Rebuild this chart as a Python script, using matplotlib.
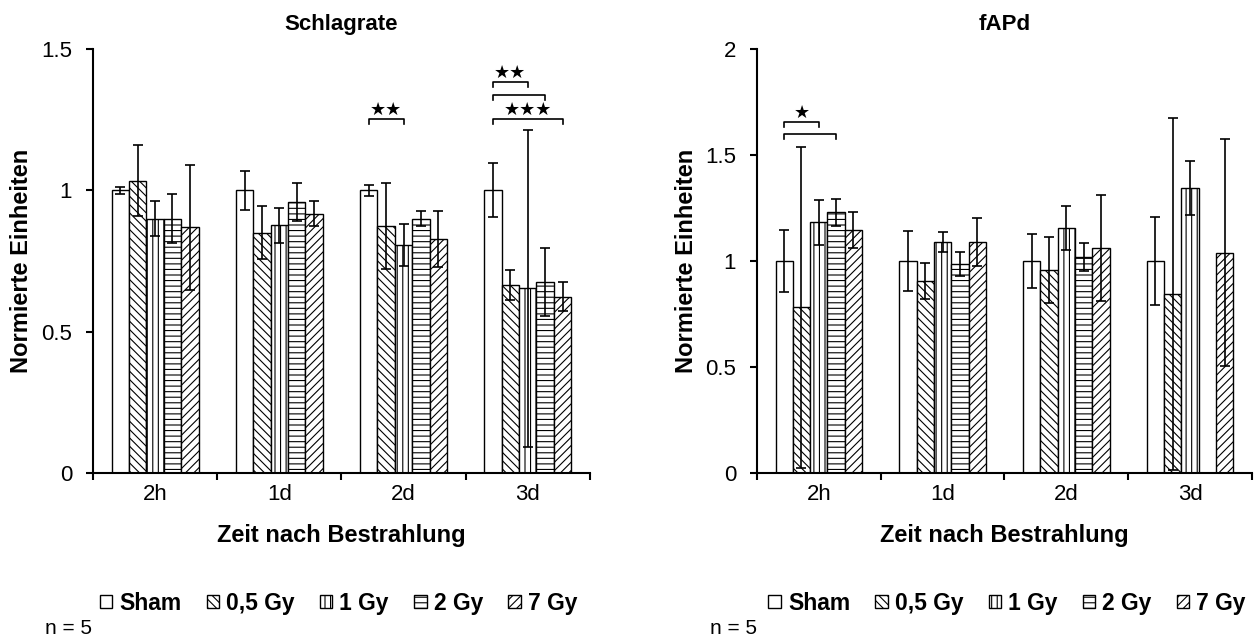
import numpy as np
import matplotlib
matplotlib.use("Agg")
import matplotlib.pyplot as plt
from matplotlib.patches import Patch

plt.rcParams['font.family'] = ['Liberation Sans', 'DejaVu Sans']
plt.rcParams['hatch.linewidth'] = 0.8

# data
zeiten = ['2h', '1d', '2d', '3d']
gruppen = ['Sham', '0,5 Gy', '1 Gy', '2 Gy', '7 Gy']
muster = ['', '\\\\\\\\', '|||', '---', '////']

# Schlagrate (mean, error) per group, per time point
schlag = {
    'Sham':   [1.00, 1.00, 1.00, 1.00],
    '0,5 Gy': [1.034, 0.85, 0.875, 0.665],
    '1 Gy':   [0.90, 0.876, 0.807, 0.653],
    '2 Gy':   [0.90, 0.96, 0.90, 0.675],
    '7 Gy':   [0.869, 0.918, 0.828, 0.624],
}
schlag_err = {
    'Sham':   [0.013, 0.07, 0.02, 0.095],
    '0,5 Gy': [0.125, 0.094, 0.152, 0.053],
    '1 Gy':   [0.063, 0.061, 0.074, 0.56],
    '2 Gy':   [0.086, 0.067, 0.026, 0.12],
    '7 Gy':   [0.22, 0.045, 0.10, 0.05],
}

# fAPd
fapd = {
    'Sham':   [1.00, 1.00, 1.00, 1.00],
    '0,5 Gy': [0.783, 0.907, 0.957, 0.844],
    '1 Gy':   [1.182, 1.09, 1.155, 1.345],
    '2 Gy':   [1.229, 0.986, 1.02, np.nan],
    '7 Gy':   [1.147, 1.09, 1.063, 1.04],
}
fapd_err = {
    'Sham':   [0.145, 0.14, 0.126, 0.209],
    '0,5 Gy': [0.757, 0.085, 0.154, 0.83],
    '1 Gy':   [0.107, 0.048, 0.105, 0.126],
    '2 Gy':   [0.065, 0.056, 0.065, np.nan],
    '7 Gy':   [0.084, 0.115, 0.25, 0.535],
}

# significance: (time index, group a, group b, bracket height, stars)
sig_schlag = [(2, 0, 2, 1.252, '★★'),
              (3, 0, 2, 1.383, '★★'),
              (3, 0, 3, 1.337, ''),
              (3, 0, 4, 1.252, '★★★')]
sig_fapd = [(0, 0, 2, 1.655, '★'),
            (0, 0, 3, 1.600, '')]

FS = 16
breite = 0.14
x = np.arange(len(zeiten))


def bar_x(j):
    return x + (j - 2) * breite


def panel(ax, werte, fehler, titel, ymax, yticks, sigs, tick_h, star_dy, star_fs):
    for j, g in enumerate(gruppen):
        ax.bar(bar_x(j), werte[g], breite, color='white', edgecolor='black',
               linewidth=1.0, hatch=muster[j], zorder=2)
        ax.errorbar(bar_x(j), werte[g], yerr=fehler[g], fmt='none', ecolor='black',
                    elinewidth=1.2, capsize=3.5, capthick=1.2, zorder=3)

    for (t, a, b, h, s) in sigs:
        xa = t + (a - 2) * breite
        xb = t + (b - 2) * breite
        ax.plot([xa, xa, xb, xb], [h - tick_h, h, h, h - tick_h], color='black',
                lw=1.2, clip_on=False)
        if s:
            ax.text((xa + xb) / 2, h + star_dy, s, ha='center', va='center',
                    fontsize=star_fs, family='DejaVu Sans')

    ax.set_xlim(-0.5, len(zeiten) - 0.5)
    ax.set_ylim(0, ymax)
    ax.set_yticks(yticks)
    ax.set_yticklabels(['%g' % v for v in yticks])
    ax.set_xticks(x)
    ax.set_xticklabels(zeiten)
    ax.set_xticks(np.arange(len(zeiten) + 1) - 0.5, minor=True)
    ax.tick_params(axis='x', which='major', length=0, pad=8, labelsize=FS)
    ax.tick_params(axis='x', which='minor', length=5, width=1.5, direction='out')
    ax.tick_params(axis='y', length=5, width=1.5, direction='out', pad=10, labelsize=FS)
    for sp in ['top', 'right']:
        ax.spines[sp].set_visible(False)
    for sp in ['left', 'bottom']:
        ax.spines[sp].set_linewidth(1.5)

    ax.set_title(titel, fontsize=FS, fontweight='bold', pad=14)
    ax.set_ylabel('Normierte Einheiten', fontsize=FS + 1, fontweight='bold')
    ax.yaxis.set_label_coords(-0.12, 0.5)
    ax.set_xlabel('Zeit nach Bestrahlung', fontsize=FS + 1, fontweight='bold')
    ax.xaxis.set_label_coords(0.5, -0.12)


fig = plt.figure(figsize=(12.58, 6.42), dpi=100)
ax1 = fig.add_axes([0.0739, 0.2632, 0.395, 0.6605])
ax2 = fig.add_axes([0.6017, 0.2632, 0.3935, 0.6605])

panel(ax1, schlag, schlag_err, 'Schlagrate', 1.5, [0, 0.5, 1, 1.5], sig_schlag,
      0.018, 0.033, 13)
panel(ax2, fapd, fapd_err, 'fAPd', 2, [0, 0.5, 1, 1.5, 2], sig_fapd,
      0.024, 0.042, 13)

handles = [Patch(facecolor='white', edgecolor='black', hatch=muster[j], linewidth=1.0)
           for j in range(len(gruppen))]
for cx in [0.269, 0.8006]:
    fig.legend(handles, gruppen, loc='center', bbox_to_anchor=(cx, 0.0607), ncol=5,
               frameon=False, handlelength=0.55, handleheight=0.55, handletextpad=0.3,
               columnspacing=1.1, prop={'size': FS + 0.5, 'weight': 'bold'})

fig.text(45 / 1258, 1 - 628 / 642, 'n = 5', fontsize=FS - 1, va='center')
fig.text(710 / 1258, 1 - 628 / 642, 'n = 5', fontsize=FS - 1, va='center')

fig.savefig('out.png', dpi=100)
